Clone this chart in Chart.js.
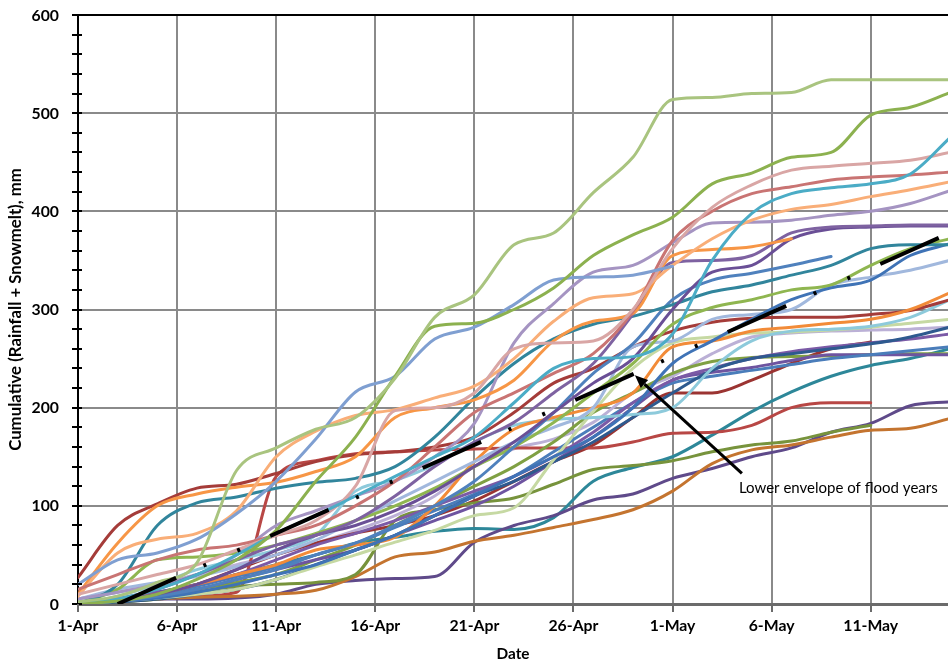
<!DOCTYPE html>
<html>
<head>
<meta charset="utf-8">
<script src="https://cdn.jsdelivr.net/npm/chart.js@4/dist/chart.umd.min.js"></script>
<style>
  html, body { margin: 0; padding: 0; background: #ffffff; }
  canvas { display: block; }
</style>
</head>
<body>
<canvas id="chart" width="948" height="664"></canvas>
<script>
// Days after 1 April at which each season's cumulative total is given
const DAYS = [0, 2, 4, 6, 8, 10, 12, 14, 16, 18, 20, 22, 24, 26, 28, 30, 32, 34, 36, 38, 40, 42, 44];
const TICK_DAYS = [0, 5, 10, 15, 20, 25, 30, 35, 40];
const TICK_LABELS = ['1-Apr', '6-Apr', '11-Apr', '16-Apr', '21-Apr', '26-Apr', '1-May', '6-May', '11-May'];
const Y_TICKS = [0, 100, 200, 300, 400, 500, 600];
const X_MAX = 43.9;

// Cumulative rainfall + snowmelt (mm), one array per year
const s01 = [2, 8, 22, 42, 136, 159, 178, 190, 230, 292, 315, 366, 378, 419, 455, 514, 516, 520, 521, 534, 534, 534, 534];
const s02 = [0, 3, 10, 25, 45, 75, 125, 170, 232, 283, 286, 300, 322, 355, 376, 394, 428, 439, 455, 460, 498, 506, 521];
const s03 = [20, 45, 52, 66, 92, 125, 168, 216, 232, 270, 282, 305, 330, 333, 335, 344, null, null, null, null, null, null, null];
const s04 = [0, 5, 15, 30, 50, 72, 90, 110, 130, 150, 170, 205, 240, 250, 252, 275, 350, 398, 418, 424, 428, 438, 475];
const s05 = [10, 20, 30, 40, 55, 70, 85, 120, 197, 200, 215, 260, 266, 268, 300, 362, 404, 427, 442, 446, 449, 452, 460];
const s06 = [15, 30, 45, 55, 60, 70, 80, 100, 125, 160, 195, 215, 235, 255, 298, 370, 400, 418, 425, 432, 435, 437, 440];
const s07 = [8, 52, 66, 72, 95, 150, 176, 192, 198, 210, 222, 250, 288, 312, 316, 345, 372, 391, 402, 407, 415, 422, 430];
const s08 = [10, 62, 100, 112, 119, 124, 135, 150, 190, 200, 208, 228, 268, 288, 296, 355, 361, 364, 372, null, null, null, null];
const s09 = [0, 5, 15, 30, 45, 60, 70, 85, 110, 140, 165, 185, 215, 245, 295, 348, 350, 355, 378, 384, 385, 386, 386];
const s10 = [5, 12, 20, 30, 50, 80, 95, 110, 125, 150, 184, 266, 306, 338, 345, 368, 388, 389, 391, 396, 400, 408, 421];
const s11 = [0, 4, 10, 20, 35, 55, 70, 80, 95, 115, 140, 165, 195, 225, 250, 300, 338, 345, 372, 382, 384, 385, 385];
const s12 = [0, 20, 80, 103, 109, 118, 124, 128, 140, 170, 210, 245, 270, 285, 293, 305, 318, 325, 335, 345, 362, 366, 366];
const s13 = [0, 3, 8, 15, 25, 35, 50, 62, 80, 100, 125, 160, 195, 235, 265, 310, 330, 337, 345, 354, null, null, null];
const s14 = [0, 3, 6, 12, 20, 30, 40, 55, 70, 90, 110, 130, 150, 170, 200, 245, 268, 290, 310, 322, 330, 355, 367];
const s15 = [0, 15, 45, 48, 52, 60, 72, 85, 100, 118, 140, 160, 185, 215, 245, 285, 302, 310, 320, 325, 345, 362, 372];
const s16 = [5, 15, 22, 28, 38, 50, 65, 85, 105, 125, 145, 165, 180, 200, 262, 268, 290, 295, 300, 325, 333, 340, 350];
const s17 = [0, 5, 10, 20, 30, 40, 55, 60, 68, 100, 145, 178, 190, 200, 215, 262, 268, 278, 282, 286, 290, 300, 317];
const s18 = [27, 80, 102, 118, 122, 133, 145, 152, 155, 160, 170, 195, 225, 240, 262, 278, 287, 291, 292, 292, 295, 299, 310];
const s19 = [0, 8, 20, 35, 45, 55, 70, 115, 126, 142, 165, 182, 188, 190, 193, 200, 240, 268, 278, 280, 283, 292, 310];
const s20 = [0, 3, 6, 10, 15, 25, 38, 50, 63, 75, 90, 98, 147, 196, 240, 266, 272, 276, 277, 279, 282, 286, 290];
const s21 = [0, 2, 5, 10, 15, 25, 40, 55, 70, 90, 110, 125, 145, 165, 190, 215, 238, 250, 255, 260, 265, 272, 282];
const s22 = [0, 5, 12, 20, 30, 45, 60, 72, 85, 100, 115, 130, 150, 175, 205, 228, 240, 250, 257, 262, 266, 270, 275];
const s23 = [0, 4, 10, 18, 28, 38, 50, 62, 78, 95, 112, 130, 155, 180, 205, 225, 232, 238, 244, 250, 254, 258, 262];
const s24 = [0, 3, 8, 15, 25, 35, 45, 55, 70, 85, 100, 120, 145, 170, 200, 228, 236, 241, 248, 254, 254, 254, 254];
const s25 = [0, 2, 5, 12, 18, 20, 22, 30, 85, 96, 103, 108, 122, 137, 141, 146, 155, 162, 166, 175, 182, null, null];
const s26 = [0, 4, 8, 15, 22, 30, 45, 60, 80, 100, 120, 140, 165, 195, 215, 235, 247, 251, 252, 253, 254, 255, 255];
const s27 = [0, 2, 5, 7, 8, 10, 14, 28, 48, 53, 64, 70, 78, 86, 96, 115, 143, 157, 162, 170, 177, 179, 189];
const s28 = [0, 3, 5, 5, 6, 10, 20, 24, 26, 28, 63, 80, 90, 106, 112, 128, 138, 150, 159, 175, 184, 202, 206];
const s29 = [0, 3, 5, 8, 12, 130, 146, 153, 155, 157, 158, 159, 159, 159, 165, 174, 175, 182, 200, 205, 205, null, null];
const s30 = [0, 5, 12, 20, 30, 40, 50, 62, 68, 74, 77, 76, 88, 125, 139, 150, 172, 196, 216, 232, 243, 250, 260];
const s31 = [0, 3, 10, 20, 35, 50, 62, 72, 80, 90, 105, 125, 145, 162, 190, 215, 215, 228, 245, 260, 267, null, null];
const s32 = [5, 12, 20, 30, 40, 50, 62, 75, 90, 110, 140, 158, 168, 185, 215, 232, 255, 272, 276, 278, 279, 280, 282];

// Lower envelope of the flood years (straight line, day -> mm)
const ENVELOPE_DAYS = [2, 44];
const ENVELOPE_MM = [0, 378];

// Callout text and its arrow (day, mm)
const NOTE_TEXT = 'Lower envelope of flood years';
const NOTE_TIP = [28.1, 233];
const NOTE_TAIL = [33.5, 133];
const NOTE_AT = [33.35, 113];

const X_TITLE = 'Date';
const Y_TITLE = 'Cumulative (Rainfall + Snowmelt), mm';

const SERIES = [s01, s02, s03, s04, s05, s06, s07, s08, s09, s10, s11, s12, s13, s14, s15, s16,
                s17, s18, s19, s20, s21, s22, s23, s24, s25, s26, s27, s28, s29, s30, s31, s32];
const COLORS = ['#A9C47F', '#8CB14F', '#7F9FD1', '#4BACC6', '#D9A6A5', '#C97473', '#F9AE78', '#F79646',
                '#7E62A1', '#A594C2', '#6A4F96', '#31859C', '#4F81BD', '#3F73B6', '#8FB650', '#A1B8DD',
                '#F28B38', '#A53C39', '#8DCADB', '#C6D9A3', '#2E5A8F', '#7B5AA6', '#4A7DBA', '#6E54A0',
                '#77933C', '#7FA043', '#C4742F', '#5F4A8A', '#B84745', '#2D8799', '#9B3432', '#BBB0D6'];

const FAMILY = 'Lato, "Open Sans", "DejaVu Sans", sans-serif';

// Pick a font size so that a string spans the wanted width
const probe = document.createElement('canvas').getContext('2d');
function fitFont(text, width, weight) {
  probe.font = weight + ' 40px ' + FAMILY;
  const size = 40 * width / probe.measureText(text).width;
  return weight + ' ' + size.toFixed(2) + 'px ' + FAMILY;
}
const TICK_FONT = fitFont('11-May', 55, 'bold');
const X_TITLE_FONT = fitFont(X_TITLE, 33, 'bold');
const Y_TITLE_FONT = fitFont(Y_TITLE, 283, 'bold');
const NOTE_FONT = fitFont(NOTE_TEXT, 199, 'normal');

const datasets = [{
  data: ENVELOPE_DAYS.map((d, i) => ({ x: d, y: ENVELOPE_MM[i] })),
  borderColor: '#000000',
  borderWidth: 4,
  borderDash: [64, 30, 3, 34, 3, 33],
  borderCapStyle: 'butt',
  tension: 0,
  cubicInterpolationMode: 'default'
}];
SERIES.forEach((vals, k) => {
  datasets.push({
    data: DAYS.map((d, i) => ({ x: d, y: vals[i] })),
    borderColor: COLORS[k],
    borderWidth: 3,
    cubicInterpolationMode: 'monotone',
    borderCapStyle: 'round',
    borderJoinStyle: 'round',
    spanGaps: false
  });
});

// Axis tick marks, tick labels, axis titles and the callout
const decorations = {
  id: 'decorations',
  afterDraw(chart) {
    const { ctx, scales: { x, y } } = chart;
    const axisX = x.left;
    ctx.save();

    // value axis: crossing major and minor marks
    ctx.strokeStyle = '#000000';
    ctx.lineWidth = 2;
    for (let v = 0; v <= 600; v += 20) {
      const py = Math.round(y.getPixelForValue(v));
      ctx.beginPath();
      ctx.moveTo(axisX - 6, py);
      ctx.lineTo(axisX + 4, py);
      ctx.stroke();
    }
    // date axis: marks hanging below the axis
    ctx.strokeStyle = '#6b6b6b';
    TICK_DAYS.forEach(d => {
      const px = Math.round(x.getPixelForValue(d));
      ctx.beginPath();
      ctx.moveTo(px, y.bottom);
      ctx.lineTo(px, y.bottom + 8);
      ctx.stroke();
    });

    // tick labels
    ctx.fillStyle = '#000000';
    ctx.font = TICK_FONT;
    ctx.textAlign = 'right';
    ctx.textBaseline = 'middle';
    Y_TICKS.forEach(v => ctx.fillText(String(v), axisX - 19, y.getPixelForValue(v) + 0.5));
    ctx.textAlign = 'center';
    ctx.textBaseline = 'alphabetic';
    TICK_DAYS.forEach((d, i) => ctx.fillText(TICK_LABELS[i], x.getPixelForValue(d), y.bottom + 27));

    // axis titles
    ctx.font = X_TITLE_FONT;
    ctx.fillText(X_TITLE, (x.left + x.right) / 2, y.bottom + 55);
    ctx.save();
    ctx.translate(16, (y.top + y.bottom) / 2);
    ctx.rotate(-Math.PI / 2);
    ctx.font = Y_TITLE_FONT;
    ctx.textAlign = 'center';
    ctx.textBaseline = 'middle';
    ctx.fillText(Y_TITLE, 0, 0);
    ctx.restore();

    // callout arrow
    const tx = x.getPixelForValue(NOTE_TIP[0]), ty = y.getPixelForValue(NOTE_TIP[1]);
    const sx = x.getPixelForValue(NOTE_TAIL[0]), sy = y.getPixelForValue(NOTE_TAIL[1]);
    const ang = Math.atan2(ty - sy, tx - sx);
    const head = 13, half = 5.5;
    const bx = tx - head * Math.cos(ang), by = ty - head * Math.sin(ang);
    ctx.strokeStyle = '#000000';
    ctx.lineWidth = 3;
    ctx.lineCap = 'butt';
    ctx.beginPath();
    ctx.moveTo(sx, sy);
    ctx.lineTo(bx, by);
    ctx.stroke();
    ctx.beginPath();
    ctx.moveTo(tx, ty);
    ctx.lineTo(bx + half * Math.sin(ang), by - half * Math.cos(ang));
    ctx.lineTo(bx - half * Math.sin(ang), by + half * Math.cos(ang));
    ctx.closePath();
    ctx.fill();

    ctx.font = NOTE_FONT;
    ctx.textAlign = 'left';
    ctx.textBaseline = 'alphabetic';
    ctx.fillText(NOTE_TEXT, x.getPixelForValue(NOTE_AT[0]), y.getPixelForValue(NOTE_AT[1]));
    ctx.restore();
  }
};

new Chart(document.getElementById('chart'), {
  type: 'line',
  data: { datasets },
  plugins: [decorations],
  options: {
    responsive: false,
    animation: false,
    events: [],
    layout: { padding: { top: 15, left: 0, right: 0, bottom: 0 } },
    plugins: { legend: { display: false }, tooltip: { enabled: false } },
    elements: { point: { radius: 0 } },
    scales: {
      x: {
        type: 'linear',
        min: 0,
        max: X_MAX,
        afterBuildTicks: s => { s.ticks = TICK_DAYS.map(v => ({ value: v })); },
        afterFit: s => { s.height = 60; },
        ticks: { display: false },
        grid: { color: '#8a8a8a', lineWidth: 2, drawTicks: false },
        border: { color: '#6b6b6b', width: 3 }
      },
      y: {
        min: 0,
        max: 600,
        afterBuildTicks: s => { s.ticks = Y_TICKS.map(v => ({ value: v })); },
        afterFit: s => { s.width = 78; },
        ticks: { display: false },
        grid: {
          color: c => (c.tick && c.tick.value === 600) ? '#000000' : '#8a8a8a',
          lineWidth: 2,
          drawTicks: false
        },
        border: { color: '#000000', width: 2 }
      }
    }
  }
});
</script>
</body>
</html>
